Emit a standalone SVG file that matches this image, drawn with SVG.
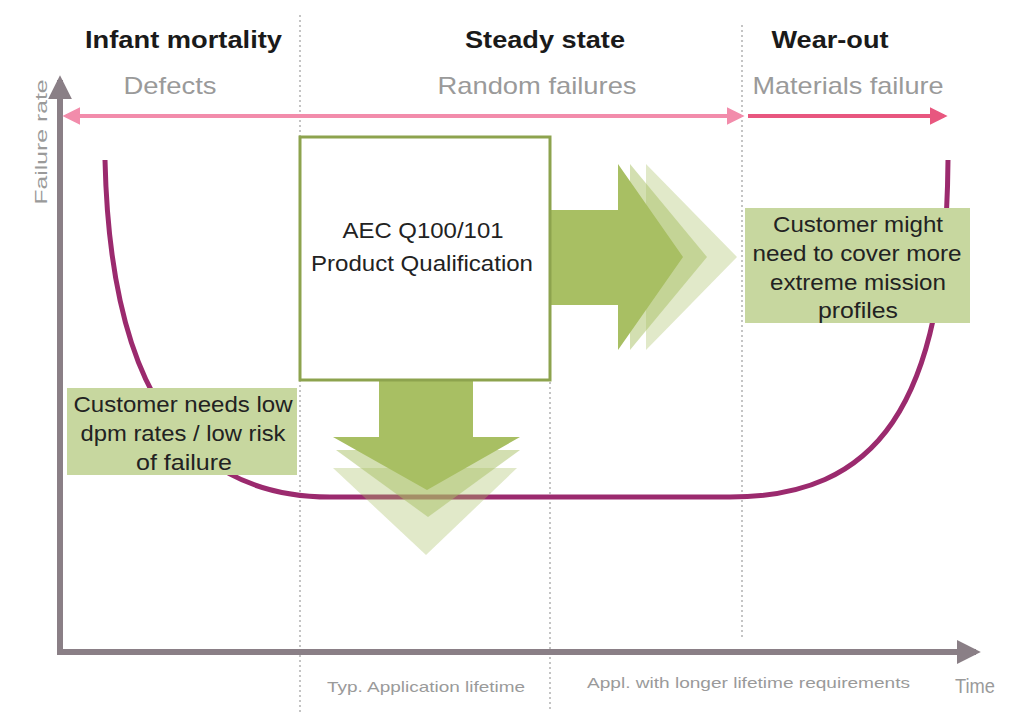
<svg xmlns="http://www.w3.org/2000/svg" width="1024" height="716" viewBox="0 0 1024 716">
<defs>
<style>
.title{font-family:"Liberation Sans",Arial,sans-serif;font-weight:bold;font-size:24px;fill:#1a1a1a;text-anchor:middle}
.sub{font-family:"Liberation Sans",Arial,sans-serif;font-size:24px;fill:#9a9a9a;text-anchor:middle}
.note{font-family:"Liberation Sans",Arial,sans-serif;font-size:22px;fill:#222;text-anchor:middle}
.small{font-family:"Liberation Sans",Arial,sans-serif;font-size:15px;fill:#9a9a9a}
.dot{stroke:#c4c4c4;stroke-width:2;stroke-dasharray:2 3;fill:none}
.gbox{fill:#c7d79f}
.arr{fill:#a8bf63}
</style>
<marker id="axhead" viewBox="0 0 10 10" refX="8" refY="5" markerWidth="4" markerHeight="4" orient="auto-start-reverse" markerUnits="strokeWidth">
<path d="M0,0 L10,5 L0,10 z" fill="#8a7f86"/>
</marker>
<marker id="pinkhead" viewBox="0 0 10 10" refX="8" refY="5" markerWidth="4.5" markerHeight="4.5" orient="auto-start-reverse" markerUnits="strokeWidth">
<path d="M0,0 L10,5 L0,10 z" fill="#f28cab"/>
</marker>
<marker id="pinkdark" viewBox="0 0 10 10" refX="8" refY="5" markerWidth="4.5" markerHeight="4.5" orient="auto" markerUnits="strokeWidth">
<path d="M0,0 L10,5 L0,10 z" fill="#e8577f"/>
</marker>
</defs>
<rect width="1024" height="716" fill="#ffffff"/>

<g id="gridlines">
<line class="dot" x1="300" y1="15" x2="300" y2="712"/>
<line class="dot" x1="550" y1="382" x2="550" y2="712"/>
<line class="dot" x1="742" y1="25" x2="742" y2="640"/>
</g>

<g id="headers">
<text class="title" x="183.5" y="48" textLength="197" lengthAdjust="spacingAndGlyphs">Infant mortality</text>
<text class="title" x="545" y="48" textLength="160" lengthAdjust="spacingAndGlyphs">Steady state</text>
<text class="title" x="830" y="48" textLength="117" lengthAdjust="spacingAndGlyphs">Wear-out</text>
<text class="sub" x="170" y="94" textLength="93" lengthAdjust="spacingAndGlyphs">Defects</text>
<text class="sub" x="537" y="94" textLength="199" lengthAdjust="spacingAndGlyphs">Random failures</text>
<text class="sub" x="848" y="94" textLength="191" lengthAdjust="spacingAndGlyphs">Materials failure</text>
</g>

<g id="curve">
<path d="M105,160 C110,380 180,497 330,497 L730,497 C875,497 946,410 948,160" fill="none" stroke="#9b2a6e" stroke-width="5"/>
</g>

<g id="connectors">
<line x1="60" y1="652" x2="60" y2="80" stroke="#8a7f86" stroke-width="6" marker-end="url(#axhead)"/>
<line x1="57" y1="652" x2="976" y2="652" stroke="#8a7f86" stroke-width="6" marker-end="url(#axhead)"/>
<line x1="66" y1="116" x2="741" y2="116" stroke="#f28cab" stroke-width="4" marker-start="url(#pinkhead)" marker-end="url(#pinkhead)"/>
<line x1="748" y1="116" x2="944" y2="116" stroke="#e8577f" stroke-width="4" marker-end="url(#pinkdark)"/>
</g>

<g id="axis-labels">
<text class="small" x="0" y="0" transform="translate(47,142) rotate(-90)" text-anchor="middle" style="font-size:17px" textLength="125" lengthAdjust="spacingAndGlyphs">Failure rate</text>
<text class="small" x="426" y="692" text-anchor="middle" textLength="198" lengthAdjust="spacingAndGlyphs">Typ. Application lifetime</text>
<text class="small" x="587" y="688" textLength="323" lengthAdjust="spacingAndGlyphs">Appl. with longer lifetime requirements</text>
<text class="small" x="975" y="693" text-anchor="middle" style="font-size:20px" textLength="40" lengthAdjust="spacingAndGlyphs">Time</text>
</g>

<g id="arrow-right">
<polygon class="arr" opacity="0.35" points="550,210 646,210 646,164 737,257 646,350 646,305 550,305"/>
<polygon class="arr" opacity="0.5" points="550,210 630,210 630,164 707,257 630,350 630,305 550,305"/>
<polygon class="arr" points="550,210 618,210 618,164 683,257 618,350 618,305 550,305"/>
</g>

<g id="arrow-down">
<polygon class="arr" opacity="0.35" points="333,468 517,468 426,555"/>
<polygon class="arr" opacity="0.5" points="336,450 520,450 428,517"/>
<polygon class="arr" points="379,380 473,380 473,437 520,437 427,490 333,437 379,437"/>
</g>

<g id="qualification-box">
<rect x="300" y="137" width="250" height="243" fill="#ffffff" stroke="#8da34e" stroke-width="3"/>
<text class="note" x="423" y="238" textLength="161" lengthAdjust="spacingAndGlyphs">AEC Q100/101</text>
<text class="note" x="422" y="271" textLength="222" lengthAdjust="spacingAndGlyphs">Product Qualification</text>
</g>

<g id="left-note">
<rect class="gbox" x="67" y="388" width="230" height="87"/>
<text class="note" x="183" y="412" textLength="219" lengthAdjust="spacingAndGlyphs">Customer needs low</text>
<text class="note" x="183" y="441" textLength="205" lengthAdjust="spacingAndGlyphs">dpm rates / low risk</text>
<text class="note" x="184" y="470" textLength="96" lengthAdjust="spacingAndGlyphs">of failure</text>
</g>

<g id="right-note">
<rect class="gbox" x="745" y="208" width="225" height="115"/>
<text class="note" x="858" y="232" textLength="170" lengthAdjust="spacingAndGlyphs">Customer might</text>
<text class="note" x="857" y="261" textLength="209" lengthAdjust="spacingAndGlyphs">need to cover more</text>
<text class="note" x="858" y="290" textLength="176" lengthAdjust="spacingAndGlyphs">extreme mission</text>
<text class="note" x="858" y="318" textLength="80" lengthAdjust="spacingAndGlyphs">profiles</text>
</g>
</svg>
